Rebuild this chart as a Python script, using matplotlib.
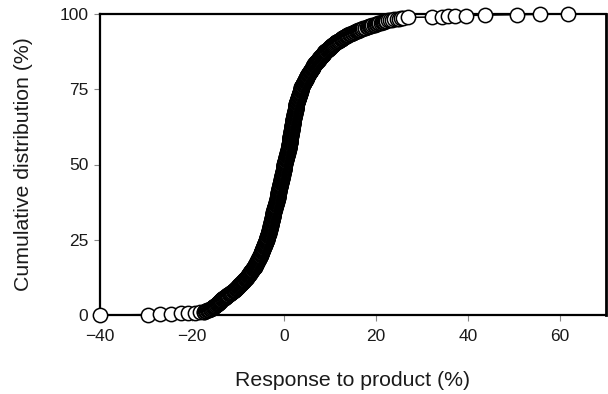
import matplotlib
matplotlib.use("Agg")
import matplotlib.pyplot as plt
import numpy as np

plt.rcParams['font.family'] = ['Liberation Sans', 'DejaVu Sans']

# Individual responses to product (%) (sorted)
responses = [
    -40.0, -29.6, -27.0, -24.6, -22.4, -20.8, -19.4, -18.3, -17.5,
    -17.3, -17.1, -16.9, -16.7, -16.5, -16.3, -16.1, -15.9,
    -15.8, -15.7, -15.6, -15.5, -15.4, -15.3, -15.2, -15.0, -14.9, -14.8, -14.7, -14.6,
    -14.5, -14.4, -14.3, -14.3, -14.2, -14.1, -14.0, -13.9, -13.9, -13.8, -13.7, -13.6,
    -13.5, -13.4, -13.3, -13.2, -13.1, -12.9, -12.8, -12.7, -12.6, -12.5, -12.4, -12.3,
    -12.2, -12.1, -11.9, -11.8, -11.7, -11.6, -11.5, -11.4, -11.3, -11.2, -11.0, -10.9,
    -10.8, -10.7,
    -10.6, -10.5, -10.4, -10.4, -10.3, -10.2, -10.1, -10.0, -10.0, -9.9, -9.8, -9.7, -9.7, -9.6,
    -9.5, -9.4, -9.4, -9.3, -9.2, -9.1, -9.0, -9.0, -8.9, -8.8, -8.7, -8.6, -8.6, -8.5, -8.4, -8.3,
    -8.2, -8.2, -8.1, -8.1, -8.0, -7.9, -7.9, -7.8, -7.8, -7.7, -7.6, -7.6, -7.5, -7.5, -7.4, -7.3,
    -7.3, -7.2, -7.2, -7.1, -7.0, -7.0, -6.9, -6.9, -6.8, -6.7, -6.7, -6.6, -6.6, -6.5, -6.4, -6.3,
    -6.3, -6.2, -6.2, -6.2, -6.1, -6.1, -6.0, -6.0, -6.0, -5.9, -5.9, -5.8, -5.8, -5.8, -5.7, -5.7,
    -5.6, -5.6, -5.6, -5.5, -5.5, -5.4, -5.4, -5.4, -5.3, -5.3, -5.2, -5.2, -5.2, -5.1, -5.1, -5.0,
    -5.0, -5.0, -4.9, -4.9, -4.9, -4.8, -4.8, -4.8, -4.7, -4.7, -4.7, -4.6, -4.6, -4.6, -4.6,
    -4.5, -4.5, -4.5, -4.4, -4.4, -4.4, -4.3, -4.3, -4.3, -4.2, -4.2, -4.2, -4.2, -4.1, -4.1,
    -4.1, -4.0, -4.0, -4.0, -3.9, -3.9, -3.9, -3.8, -3.8, -3.8, -3.8, -3.7, -3.7, -3.7, -3.6,
    -3.6, -3.6, -3.5, -3.5, -3.5, -3.5, -3.4, -3.4, -3.4,
    -3.3, -3.3, -3.3, -3.3, -3.3, -3.2, -3.2, -3.2, -3.2, -3.2, -3.1, -3.1, -3.1, -3.1, -3.1,
    -3.0, -3.0, -3.0, -3.0, -3.0, -3.0, -2.9, -2.9, -2.9, -2.9, -2.9, -2.8, -2.8, -2.8, -2.8,
    -2.8, -2.8, -2.7, -2.7, -2.7, -2.7, -2.7, -2.6, -2.6, -2.6, -2.6, -2.6, -2.6, -2.5, -2.5,
    -2.5, -2.5, -2.5,
    -2.4, -2.4, -2.4, -2.4, -2.3, -2.3, -2.3, -2.3, -2.3, -2.2, -2.2, -2.2, -2.2, -2.1, -2.1,
    -2.1, -2.1, -2.1, -2.0, -2.0, -2.0, -2.0, -1.9, -1.9, -1.9, -1.9, -1.9, -1.8, -1.8, -1.8,
    -1.8, -1.7, -1.7, -1.7, -1.7, -1.7, -1.6, -1.6, -1.6, -1.6,
    -1.5, -1.5, -1.5, -1.5, -1.5, -1.5, -1.4, -1.4, -1.4, -1.4, -1.4, -1.3, -1.3, -1.3, -1.3,
    -1.3, -1.3, -1.2, -1.2, -1.2, -1.2, -1.2, -1.1, -1.1, -1.1, -1.1, -1.1, -1.1, -1.0, -1.0,
    -1.0, -1.0, -1.0, -1.0, -0.9, -0.9, -0.9, -0.9, -0.9, -0.8, -0.8, -0.8, -0.8, -0.8, -0.8,
    -0.7, -0.7, -0.7, -0.7, -0.7, -0.6, -0.6, -0.6, -0.6, -0.6, -0.6,
    -0.5, -0.5, -0.5, -0.5, -0.5, -0.5, -0.4, -0.4, -0.4, -0.4, -0.4, -0.4, -0.3, -0.3, -0.3,
    -0.3, -0.3, -0.2, -0.2, -0.2, -0.2, -0.2, -0.2, -0.1, -0.1, -0.1, -0.1, -0.1, -0.1, 0.0,
    0.0, 0.0, 0.0, 0.0, 0.0, 0.1, 0.1, 0.1, 0.1, 0.1,
    0.2, 0.2, 0.2, 0.2, 0.2, 0.3, 0.3, 0.3, 0.3, 0.3, 0.4, 0.4, 0.4, 0.4, 0.4,
    0.5, 0.5, 0.5, 0.5, 0.5, 0.6, 0.6, 0.6, 0.6, 0.6, 0.7, 0.7, 0.7, 0.7, 0.7,
    0.8, 0.8, 0.8, 0.8, 0.8, 0.9, 0.9, 0.9, 0.9, 0.9,
    1.0, 1.0, 1.0, 1.0, 1.0, 1.0, 1.0, 1.1, 1.1, 1.1, 1.1, 1.1, 1.1, 1.1,
    1.2, 1.2, 1.2, 1.2, 1.2, 1.2, 1.3, 1.3, 1.3, 1.3, 1.3, 1.3, 1.3,
    1.4, 1.4, 1.4, 1.4, 1.4, 1.4, 1.4, 1.5, 1.5, 1.5, 1.5, 1.5, 1.5,
    1.6, 1.6, 1.6, 1.6, 1.6, 1.6, 1.6, 1.6, 1.7, 1.7, 1.7, 1.7, 1.7, 1.7, 1.7, 1.7,
    1.8, 1.8, 1.8, 1.8, 1.8, 1.8, 1.8, 1.8, 1.9, 1.9, 1.9, 1.9, 1.9, 1.9, 1.9, 1.9,
    2.0, 2.0, 2.0, 2.0, 2.0, 2.0, 2.0, 2.0,
    2.1, 2.1, 2.1, 2.1, 2.1, 2.1, 2.2, 2.2, 2.2, 2.2, 2.2, 2.2, 2.3, 2.3, 2.3, 2.3, 2.3, 2.3,
    2.4, 2.4, 2.4, 2.4, 2.4, 2.5, 2.5, 2.5, 2.5, 2.5, 2.5, 2.6, 2.6, 2.6, 2.6, 2.6, 2.6,
    2.7, 2.7, 2.7, 2.7, 2.7,
    2.8, 2.8, 2.8, 2.8, 2.9, 2.9, 2.9, 2.9, 3.0, 3.0, 3.0, 3.0, 3.1, 3.1, 3.1, 3.1,
    3.2, 3.2, 3.2, 3.2, 3.3, 3.3, 3.3, 3.3, 3.4, 3.4, 3.4, 3.4, 3.5, 3.5, 3.5, 3.5,
    3.6, 3.6, 3.6, 3.6, 3.7, 3.7, 3.7, 3.7,
    3.8, 3.8, 3.8, 3.9, 3.9, 4.0, 4.0, 4.0, 4.1, 4.1, 4.2, 4.2, 4.2, 4.3, 4.3, 4.4,
    4.4, 4.4, 4.5, 4.5, 4.6, 4.6, 4.6, 4.7, 4.7, 4.8, 4.8, 4.8, 4.9, 4.9, 5.0, 5.0,
    5.1, 5.1, 5.2, 5.2, 5.3, 5.3, 5.4, 5.4, 5.5, 5.5, 5.6, 5.6, 5.7, 5.7, 5.8, 5.8,
    5.9, 5.9, 6.0, 6.0, 6.1, 6.1, 6.2, 6.2, 6.3, 6.3, 6.4, 6.4, 6.5, 6.5, 6.6, 6.6,
    6.7, 6.8, 6.8, 6.9, 7.0, 7.0, 7.1, 7.2, 7.2, 7.3, 7.4, 7.5, 7.5, 7.6, 7.7, 7.7,
    7.8, 7.9, 7.9, 8.0, 8.1, 8.2, 8.2, 8.3, 8.4, 8.4, 8.5, 8.6, 8.6, 8.7, 8.8, 8.8,
    8.9, 9.0, 9.1, 9.2, 9.3, 9.4, 9.5, 9.6, 9.7, 9.8, 9.9, 10.0,
    10.0, 10.1, 10.2, 10.3, 10.4, 10.5, 10.6, 10.7, 10.8, 10.9, 10.9, 11.0,
    11.1, 11.3, 11.4, 11.5, 11.7, 11.8, 11.9, 12.1, 12.2, 12.3,
    12.5, 12.6, 12.7, 12.9, 13.0, 13.1, 13.3, 13.4, 13.5, 13.6,
    13.8, 14.0, 14.2, 14.4, 14.6, 14.7, 14.9, 15.1, 15.3, 15.4, 15.6, 15.8, 16.0, 16.1,
    16.3, 16.5,
    16.7, 17.0, 17.2, 17.5, 17.7, 18.0, 18.2, 18.5, 18.7, 19.0, 19.2, 19.5, 19.7, 20.0,
    20.2, 20.5, 20.7, 21.0, 21.2, 21.5, 21.7, 22.0, 22.2, 22.5,
    23.0, 23.5, 24.0, 24.5, 25.0, 25.4, 25.9,
    27.0, 32.1, 34.3, 35.7, 37.2, 39.5, 43.7, 50.6, 55.7, 61.8,
]

x_ticks = [-40, -20, 0, 20, 40, 60]
x_tick_labels = ['\u221240', '\u221220', '0', '20', '40', '60']
y_ticks = [0, 25, 50, 75, 100]
y_tick_labels = ['0', '25', '50', '75', '100']

x = np.sort(np.asarray(responses, dtype=float))
cum = np.arange(len(x)) / (len(x) - 1) * 100.0

fig = plt.figure(figsize=(6.08, 3.94), dpi=100)
ax = fig.add_axes([100 / 608, 1 - 315 / 394, 506 / 608, 301 / 394])

ax.plot(x, cum, color='black', lw=1.1, marker='o', markersize=10.3,
        markerfacecolor='white', markeredgecolor='black',
        markeredgewidth=1.1, clip_on=False, zorder=3)

ax.set_xlim(-40, 70)
ax.set_ylim(0, 100)
ax.set_xticks(x_ticks)
ax.set_xticklabels(x_tick_labels)
ax.set_yticks(y_ticks)
ax.set_yticklabels(y_tick_labels)

for s in ax.spines.values():
    s.set_linewidth(1.6)
    s.set_color('black')
    s.set_zorder(2)
ax.spines['right'].set_linewidth(2.0)

ax.tick_params(axis='both', direction='out', length=4.3, width=0.8,
               color='#888888', labelsize=12.5, labelcolor='#1a1a1a')
ax.tick_params(axis='y', pad=4)
ax.tick_params(axis='x', pad=5.5)

ax.set_xlabel('Response to product (%)', fontsize=15.3, color='#1a1a1a',
              labelpad=20)
ax.set_ylabel('Cumulative distribution (%)', fontsize=15.3, color='#1a1a1a',
              labelpad=19)

fig.savefig('out.png', dpi=100)
